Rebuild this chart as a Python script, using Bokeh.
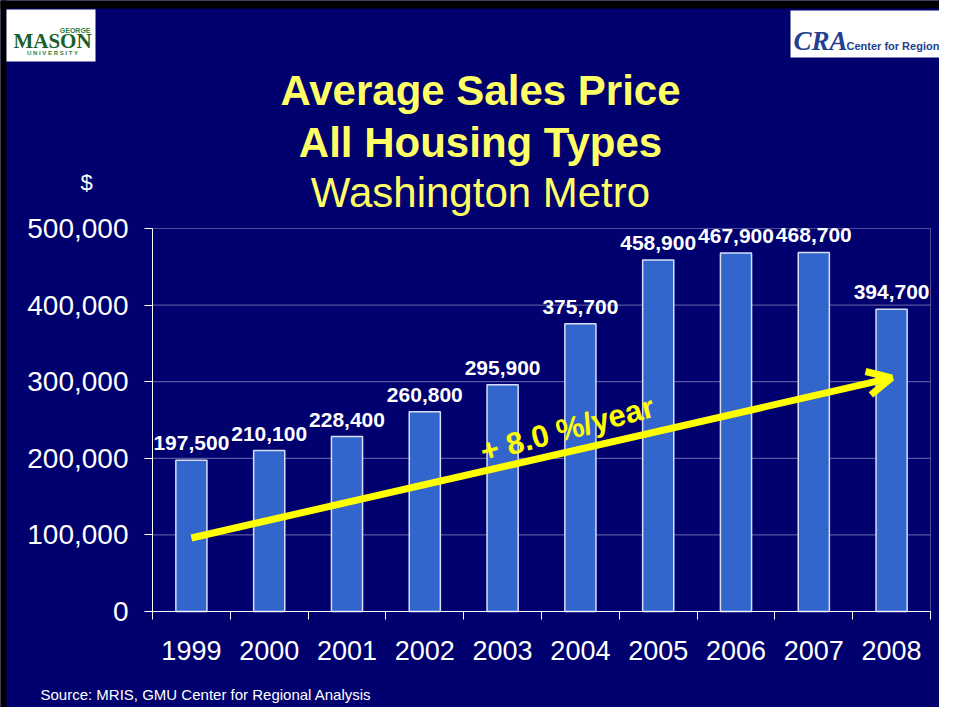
from bokeh.plotting import figure
from bokeh.models import (ColumnDataSource, Range1d, LinearAxis, FixedTicker,
                          NumeralTickFormatter, LabelSet, Label, Arrow, OpenHead,
                          BoxAnnotation)
from bokeh.core.properties import value
from bokeh.embed import file_html
from bokeh.resources import INLINE

# ---- data ----
years = ["1999", "2000", "2001", "2002", "2003", "2004", "2005", "2006", "2007", "2008"]
prices = [197500, 210100, 228400, 260800, 295900, 375700, 458900, 467900, 468700, 394700]
y_ticks = [0, 100000, 200000, 300000, 400000, 500000]
y_max = 500000
trend_values = [96000, 305000]          # trend arrow from 1999 to 2008
trend_label = "+ 8.0 %/year"
title_lines = ["Average Sales Price", "All Housing Types", "Washington Metro"]
unit_label = "$"
source_note = "Source: MRIS, GMU Center for Regional Analysis"

NAVY = "#00006E"
BAR = "#3366CC"
TITLE_YELLOW = "#FFFF66"
YELLOW = "#FFFF00"
GRID = "#6c6cae"
FONT = "Liberation Sans"

# ---- layout (pixels) ----
W, H = 939, 707
FL, FR, FT, FB = 152, 930, 228, 611      # chart area edges
N = len(years)
PXX = (FR - FL) / N                       # pixels per category
PXY = (FB - FT) / y_max                   # pixels per dollar


def dx(px):
    return (px - FL) / PXX


def dy(py):
    return (FB - py) / PXY


xs = [i + 0.5 for i in range(N)]
bounds = list(range(N + 1))
src = ColumnDataSource(dict(x=xs, price=prices, label=[f"{v:,}" for v in prices]))
grid_src = ColumnDataSource(dict(y=y_ticks[1:-1]))

p = figure(width=W, height=H, x_range=Range1d(dx(0), dx(W)), y_range=Range1d(dy(H), dy(0)),
           output_backend="svg", toolbar_location=None,
           x_axis_location=None, y_axis_location=None)
p.min_border_left = p.min_border_right = p.min_border_top = p.min_border_bottom = 0
p.background_fill_color = NAVY
p.border_fill_color = NAVY
p.outline_line_color = None
p.xgrid.visible = False
p.ygrid.visible = False

# grid lines inside the chart area
p.segment(x0=0, x1=N, y0="y", y1="y", source=grid_src, line_color=GRID, line_width=1)

# axes pinned to the chart area
yaxis = LinearAxis(fixed_location=0, bounds=(0, y_max), ticker=FixedTicker(ticks=y_ticks),
                   formatter=NumeralTickFormatter(format="0,0"),
                   axis_line_color="white", major_tick_line_color="white",
                   major_tick_out=8, major_tick_in=0, minor_tick_line_color=None,
                   major_label_text_color="white", major_label_text_font=FONT,
                   major_label_text_font_size="28px", major_label_standoff=16)
p.add_layout(yaxis, "left")

xaxis = LinearAxis(fixed_location=0, bounds=(0, N), ticker=FixedTicker(ticks=xs, minor_ticks=bounds),
                   major_label_overrides={x: y for x, y in zip(xs, years)},
                   axis_line_color="white", major_tick_line_color=None,
                   major_tick_out=0, major_tick_in=0,
                   minor_tick_line_color="white", minor_tick_out=8, minor_tick_in=0,
                   major_label_text_color="white", major_label_text_font=FONT,
                   major_label_text_font_size="27px", major_label_standoff=21)
p.add_layout(xaxis, "below")

# chart outline (top and right edges)
p.add_layout(BoxAnnotation(left=0, right=N, bottom=0, top=y_max, fill_alpha=0,
                           line_color="white", line_width=1, level="underlay"))

# bars + value labels
p.vbar(x="x", top="price", bottom=0, width=0.4, source=src,
       fill_color=BAR, line_color="#D8DEF6", line_width=1.5)
p.add_layout(LabelSet(x="x", y="price", text="label", source=src, text_align="center",
                      text_baseline="alphabetic", y_offset=10, text_color="white",
                      text_font=value(FONT), text_font_style="bold", text_font_size="21px"))

# trend arrow
p.add_layout(Arrow(x_start=xs[0], y_start=trend_values[0], x_end=xs[-1], y_end=trend_values[1],
                   line_color=YELLOW, line_width=7,
                   end=OpenHead(size=24, line_color=YELLOW, line_width=7)))
p.add_layout(Label(x=5.33, y=238000, text=trend_label, angle=15, angle_units="deg",
                   text_align="center", text_baseline="alphabetic", text_color=YELLOW,
                   text_font=FONT, text_font_style="bold", text_font_size="31px"))


def text(x, base, s, size, color, style="normal", align="left", font=FONT):
    # base = desired baseline in page pixels
    p.add_layout(Label(x=dx(x), y=dy(base - 0.35 * size), text=s, text_align=align,
                       text_baseline="alphabetic", text_color=color, text_font=font,
                       text_font_style=style, text_font_size=f"{size}px"))


def box(l, r, t, b, color):
    p.add_layout(BoxAnnotation(left=dx(l), right=dx(r), top=dy(t), bottom=dy(b),
                               fill_color=color, fill_alpha=1, line_color=None))


# titles, unit, source
for txt, base, style in zip(title_lines, [105, 157, 207], ["bold", "bold", "normal"]):
    text(480, base, txt, 42, TITLE_YELLOW, style, "center")
text(86, 190, unit_label, 22, "white", "normal", "center")
text(40, 699, source_note, 15, "white")

# slide edge and logos
box(-5, W + 5, -5, 8, "black")
box(-5, 6, -5, H + 5, "black")
box(6, 95, 9, 61, "white")
box(790, W + 5, 10, 57, "white")
text(90, 32, "GEORGE", 7, "#2e7d3a", "bold", "right")
text(52, 48, "MASON", 21, "#1b5e2b", "bold", "center", "Liberation Serif")
text(52, 55, "U N I V E R S I T Y", 6, "#2e7d3a", "bold", "center")
text(793, 50, "CRA", 27, "#23408e", "bold italic", "left", "Liberation Serif")
text(846, 49, "Center for Regional Analysis", 11, "#23408e", "bold", "left")

open("out.html", "w").write(file_html(p, INLINE))
